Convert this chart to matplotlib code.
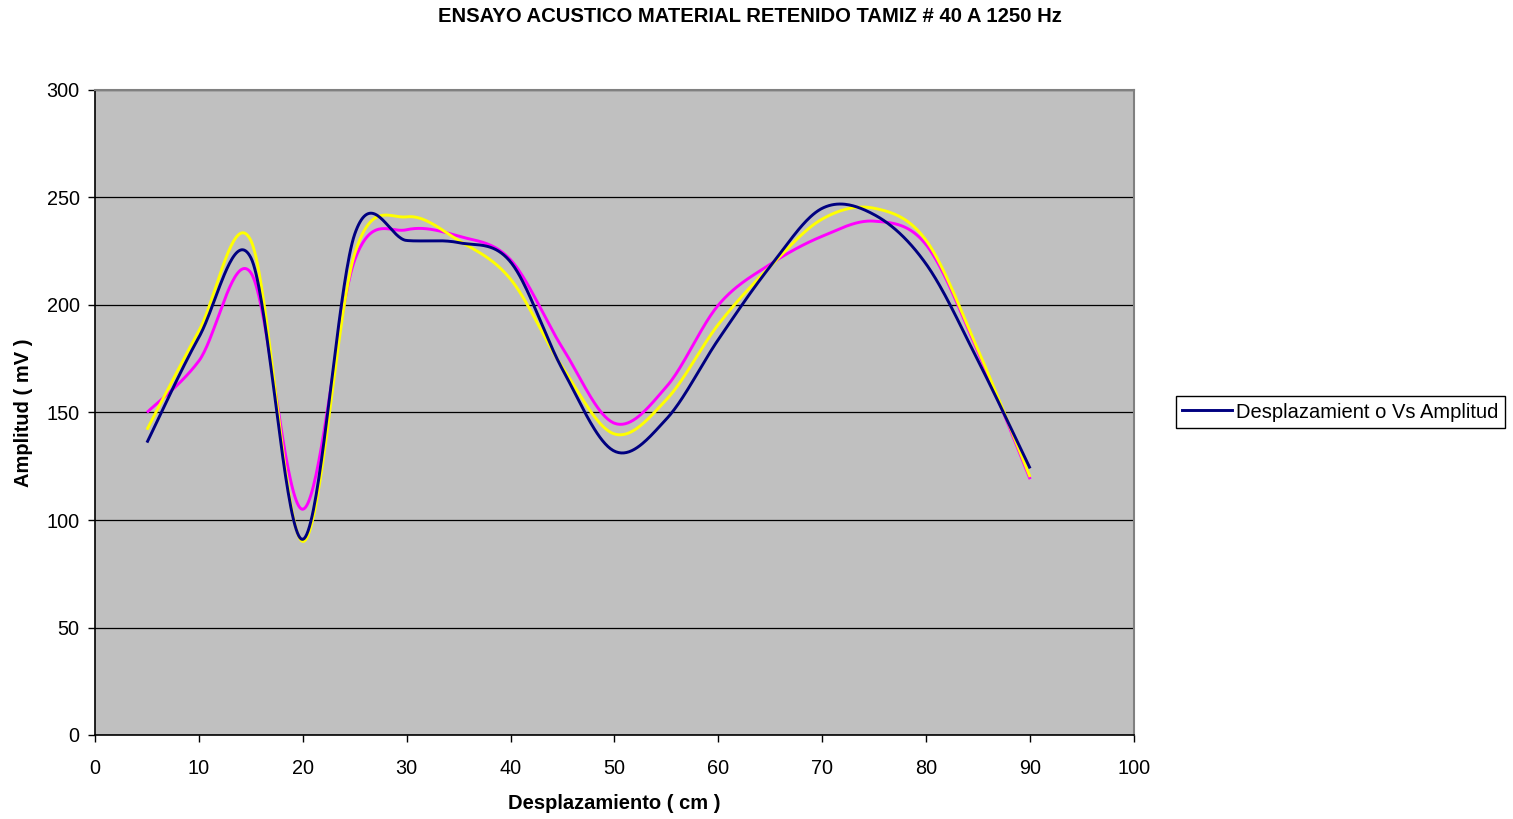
import numpy as np
import matplotlib
matplotlib.use("Agg")
import matplotlib.pyplot as plt
from matplotlib.lines import Line2D

plt.rcParams['font.family'] = ['Liberation Sans', 'DejaVu Sans']

# Data
x_cm = [5, 10, 15, 20, 25, 30, 35, 40, 45, 50, 55, 60, 65, 70, 75, 80, 85, 90]
navy_mv = [136, 185, 222, 91, 233, 230, 229, 220, 170, 132, 147, 184, 218, 245, 242, 219, 174, 124]
magenta_mv = [150, 174, 215, 105, 221, 235, 232, 221, 180, 145, 162, 200, 219, 232, 239, 228, 178, 119]
yellow_mv = [142, 188, 230, 90, 224, 241, 230, 212, 171, 140, 156, 191, 218, 240, 245, 230, 179, 120]

title = "ENSAYO ACUSTICO MATERIAL RETENIDO TAMIZ # 40 A 1250 Hz"
xlabel = "Desplazamiento ( cm )"
ylabel = "Amplitud ( mV )"
legend_label = "Desplazamient o Vs Amplitud"
xticks = [0, 10, 20, 30, 40, 50, 60, 70, 80, 90, 100]
yticks = [0, 50, 100, 150, 200, 250, 300]


def excel_smooth(xs, ys, n=40):
    P = np.column_stack([xs, ys]).astype(float)
    out = [P[0]]
    m = len(P)
    t = np.linspace(0, 1, n)[1:, None]
    for i in range(m - 1):
        p0 = P[i - 1] if i > 0 else P[i]
        p1 = P[i]
        p2 = P[i + 1]
        p3 = P[i + 2] if i + 2 < m else P[i + 1]
        c1 = p1 + (p2 - p0) / 6.0
        c2 = p2 - (p3 - p1) / 6.0
        seg = ((1 - t) ** 3) * p1 + 3 * ((1 - t) ** 2) * t * c1 + 3 * (1 - t) * t ** 2 * c2 + t ** 3 * p2
        out.extend(seg)
    out = np.array(out)
    return out[:, 0], out[:, 1]


fig = plt.figure(figsize=(15.13, 8.19), dpi=100)
ax = fig.add_axes([95 / 1513, 1 - 735 / 819, (1134 - 95) / 1513, (735 - 90) / 819])
ax.set_facecolor('#C0C0C0')

for ys, col, z in [(magenta_mv, '#FF00FF', 3), (yellow_mv, '#FFFF00', 4), (navy_mv, '#000080', 5)]:
    sx, sy = excel_smooth(x_cm, ys)
    ax.plot(sx, sy, color=col, lw=2.1, zorder=z, solid_capstyle='butt')

ax.set_xlim(0, 100)
ax.set_ylim(0, 300)
ax.set_xticks(xticks)
ax.set_yticks(yticks)
ax.yaxis.grid(True, color='black', lw=0.9)
ax.set_axisbelow(True)
ax.tick_params(axis='both', direction='out', length=5, width=1, labelsize=14.3, color='black')
ax.tick_params(axis='x', pad=12)
ax.tick_params(axis='y', pad=6)
for s in ['top', 'right']:
    ax.spines[s].set_color('#808080')
    ax.spines[s].set_linewidth(1.5)
for s in ['left', 'bottom']:
    ax.spines[s].set_color('black')
    ax.spines[s].set_linewidth(1.2)

ax.set_xlabel(xlabel, fontsize=14.5, fontweight='bold', labelpad=12)
ax.set_ylabel(ylabel, fontsize=14.5, fontweight='bold', labelpad=10)

fig.text(750 / 1513, 1 - 17 / 819, title, ha='center', va='center', fontsize=14.6,
         fontweight='bold')

handle = Line2D([], [], color='#000080', lw=2.1)
leg = fig.legend([handle], [legend_label], loc='center left',
                 bbox_to_anchor=(1176 / 1513, 1 - 412 / 819), fontsize=14.5,
                 frameon=True, fancybox=False, edgecolor='black', framealpha=1,
                 handlelength=2.5, handletextpad=0.2, borderpad=0.3, borderaxespad=0)
leg.get_frame().set_linewidth(1.0)

fig.savefig('out.png', dpi=100)
